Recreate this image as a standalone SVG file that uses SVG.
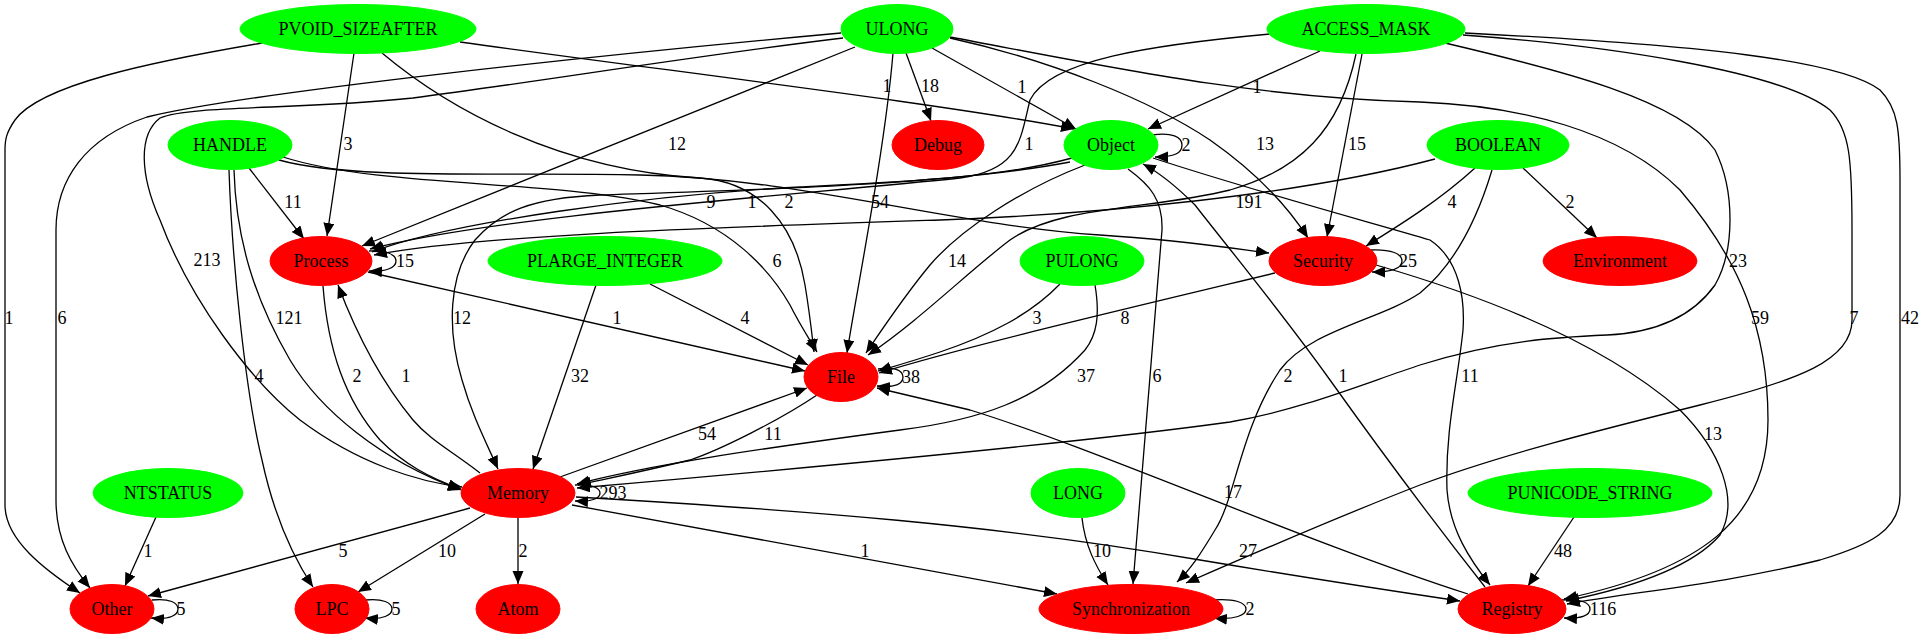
<svg xmlns="http://www.w3.org/2000/svg" width="1925" height="639" viewBox="0 0 1925 639" font-family="Liberation Serif, Times New Roman, serif">
<style>
.g{fill:#00ff00;stroke:#00ff00}
.r{fill:#ff0000;stroke:#ff0000}
text{font-family:'Liberation Serif','Times New Roman',serif;font-size:18px;fill:#000;text-anchor:middle}
.e path{fill:none;stroke:#000;stroke-width:1.3;marker-end:url(#ah)}
</style>
<defs>
<marker id="ah" markerUnits="userSpaceOnUse" markerWidth="14" markerHeight="12" refX="13" refY="5.5" orient="auto">
<path d="M0,0 L13,5.5 L0,11 Z" fill="#000"/>
</marker>
</defs>
<rect width="1925" height="639" fill="#fff"/>
<g class="e" id="edges">
<path d="M262,43 C150,62 40,85 15,120 C6,133 5,140 5,150 L5,505 C5,540 45,570 80,593"/>
<path d="M841,33 C600,55 250,92 147,117 C85,138 56,180 56,230 L56,500 C56,540 72,566 90,588"/>
<path d="M843,38 C700,55 550,80 413,98 C300,110 190,105 160,118 C138,135 140,175 160,220 C190,300 250,380 300,420 C360,465 420,482 462,487"/>
<path d="M855,47 L362,246"/>
<path d="M893,53 C885,150 855,300 847,353"/>
<path d="M906,53 L931,121"/>
<path d="M932,48 L1076,129"/>
<path d="M950,38 C1050,60 1150,100 1210,140 C1260,175 1290,210 1308,238"/>
<path d="M950,37 C1100,65 1250,98 1420,102 C1520,106 1620,130 1680,190 C1740,260 1768,330 1768,420 C1768,520 1700,570 1564,599"/>
<path d="M354,53 L327,236"/>
<path d="M460,42 C700,75 950,105 1074,129"/>
<path d="M382,53 C450,110 560,170 700,178 C760,182 795,225 805,285 C810,315 812,335 814,352"/>
<path d="M1270,34 C1150,45 1050,60 1030,100 C1020,140 1020,170 960,178 C800,195 500,215 370,249"/>
<path d="M1320,51 L1148,129"/>
<path d="M1356,54 C1340,130 1300,170 1230,190 C1150,210 1060,205 1010,240 C970,270 920,320 868,355"/>
<path d="M1362,54 L1327,237"/>
<path d="M1445,43 C1560,70 1680,100 1715,150 C1735,190 1735,250 1715,285 C1690,320 1650,333 1607,335 C1560,337 1500,340 1420,365 C1360,385 1300,410 1230,422 C1100,440 900,460 577,488"/>
<path d="M1463,35 C1600,45 1780,70 1830,110 C1850,130 1852,160 1852,230 L1852,320 C1852,360 1800,380 1700,405 C1600,430 1500,455 1420,485 C1330,520 1250,555 1186,583"/>
<path d="M1465,33 C1700,45 1840,60 1880,90 C1898,108 1900,130 1900,180 L1900,495 C1900,530 1870,545 1820,560 C1720,585 1630,592 1567,604"/>
<path d="M249,168 L304,239"/>
<path d="M234,170 C236,240 255,300 290,360 C320,410 380,460 461,490"/>
<path d="M229,170 C232,260 245,390 262,460 C275,520 295,560 313,587"/>
<path d="M283,157 C380,188 560,180 660,205 C730,225 770,270 790,305 C800,325 810,340 817,352"/>
<path d="M279,160 C350,180 500,172 640,175 C800,178 950,225 1100,235 C1180,240 1230,248 1269,253"/>
<path d="M1152,135 C1172,132 1182,137 1182,145 C1182,153 1175,157 1155,157"/>
<path d="M1072,158 C1000,178 900,182 800,187 C650,195 450,222 372,252"/>
<path d="M1070,162 C950,185 750,190 600,195 C530,198 500,212 475,240 C448,275 447,330 462,380 C472,415 485,440 498,469"/>
<path d="M1085,165 C1020,190 960,230 930,265 C905,295 885,325 866,353"/>
<path d="M1128,169 C1150,185 1163,200 1162,230 L1133,584"/>
<path d="M1153,158 C1250,190 1380,225 1430,240 C1460,260 1465,300 1463,330 C1458,380 1445,430 1447,490 C1450,530 1470,560 1490,585"/>
<path d="M1485,587 C1440,530 1380,450 1330,380 C1280,310 1230,250 1195,205 C1175,185 1158,172 1143,164"/>
<path d="M1435,159 C1300,195 1100,214 940,220 C700,228 480,235 374,255"/>
<path d="M1475,168 C1440,200 1400,225 1366,246"/>
<path d="M1523,168 L1597,238"/>
<path d="M1492,170 C1480,210 1460,260 1420,293 C1380,320 1310,330 1280,370 C1240,430 1235,500 1215,530 C1200,555 1190,570 1177,582"/>
<path d="M369,251 C385,250 396,254 396,261 C396,268 385,272 369,271"/>
<path d="M323,286 C328,350 345,400 380,440 C405,465 430,478 461,489"/>
<path d="M480,473 C450,450 430,440 413,420 C380,380 355,330 338,285"/>
<path d="M368,272 L805,371"/>
<path d="M650,284 L808,365"/>
<path d="M596,285 L533,469"/>
<path d="M1060,284 C1030,315 990,335 940,352 C910,362 895,366 878,371"/>
<path d="M1275,273 C1100,315 960,348 879,373"/>
<path d="M1095,285 C1100,315 1097,335 1085,350 C1040,400 980,420 900,430 C750,450 650,465 577,484"/>
<path d="M817,395 C780,420 720,450 690,460 C640,472 610,478 578,485"/>
<path d="M560,477 L807,388"/>
<path d="M878,369 C895,366 903,371 903,377 C903,384 895,388 877,386"/>
<path d="M1370,250 C1392,249 1402,254 1402,261 C1402,268 1392,272 1372,272"/>
<path d="M1376,265 C1480,295 1600,340 1680,410 C1720,450 1740,500 1720,535 C1690,570 1620,590 1566,601"/>
<path d="M1562,600 C1580,598 1590,603 1590,609 C1590,615 1582,619 1564,618"/>
<path d="M575,485 C592,484 600,488 600,493 C600,498 593,502 575,501"/>
<path d="M470,508 L148,596"/>
<path d="M485,514 L358,592"/>
<path d="M518,518 L518,584"/>
<path d="M572,505 L1057,594"/>
<path d="M576,497 C800,510 1000,525 1200,560 C1350,585 1420,595 1460,601"/>
<path d="M1468,594 C1300,540 1100,450 970,410 L877,388"/>
<path d="M156,517 L125,586"/>
<path d="M1082,518 C1085,545 1095,565 1108,585"/>
<path d="M1574,517 L1528,586"/>
<path d="M152,600 C170,598 178,603 178,609 C178,615 170,620 151,618"/>
<path d="M365,600 C383,598 392,603 392,609 C392,615 383,620 365,618"/>
<path d="M1212,600 C1235,598 1246,603 1246,609 C1246,615 1235,620 1214,618"/>
</g>
<g id="labels">
<text x="9" y="324">1</text>
<text x="62" y="324">6</text>
<text x="348" y="150">3</text>
<text x="293" y="208">11</text>
<text x="207" y="266">213</text>
<text x="289" y="324">121</text>
<text x="259" y="382">4</text>
<text x="357" y="382">2</text>
<text x="406" y="382">1</text>
<text x="462" y="324">12</text>
<text x="405" y="267">15</text>
<text x="677" y="150">12</text>
<text x="711" y="208">9</text>
<text x="752" y="208">1</text>
<text x="789" y="208">2</text>
<text x="880" y="208">54</text>
<text x="887" y="92">1</text>
<text x="930" y="92">18</text>
<text x="1022" y="93">1</text>
<text x="1029" y="150">1</text>
<text x="1186" y="151">2</text>
<text x="1265" y="150">13</text>
<text x="1257" y="93">1</text>
<text x="1357" y="150">15</text>
<text x="1249" y="208">191</text>
<text x="1452" y="208">4</text>
<text x="1570" y="208">2</text>
<text x="957" y="267">14</text>
<text x="777" y="267">6</text>
<text x="745" y="324">4</text>
<text x="617" y="324">1</text>
<text x="580" y="382">32</text>
<text x="1037" y="324">3</text>
<text x="1125" y="324">8</text>
<text x="1086" y="382">37</text>
<text x="1157" y="382">6</text>
<text x="1288" y="382">2</text>
<text x="1343" y="382">1</text>
<text x="1408" y="267">25</text>
<text x="1738" y="267">23</text>
<text x="1760" y="324">59</text>
<text x="1854" y="324">7</text>
<text x="1910" y="324">42</text>
<text x="1470" y="382">11</text>
<text x="1713" y="440">13</text>
<text x="1233" y="498">17</text>
<text x="1248" y="557">27</text>
<text x="865" y="557">1</text>
<text x="1102" y="557">10</text>
<text x="1563" y="557">48</text>
<text x="343" y="557">5</text>
<text x="447" y="557">10</text>
<text x="523" y="557">2</text>
<text x="148" y="557">1</text>
<text x="707" y="440">54</text>
<text x="773" y="440">11</text>
<text x="911" y="383">38</text>
<text x="613" y="499">293</text>
<text x="181" y="615">5</text>
<text x="396" y="615">5</text>
<text x="1250" y="615">2</text>
<text x="1603" y="615">116</text>
</g>
<g id="n_PVOID_SIZEAFTER"><ellipse class="g" cx="358" cy="29" rx="118" ry="24.5"/><text x="358" y="35">PVOID_SIZEAFTER</text></g>
<g id="n_ULONG"><ellipse class="g" cx="897" cy="29" rx="56" ry="24.5"/><text x="897" y="35">ULONG</text></g>
<g id="n_ACCESS_MASK"><ellipse class="g" cx="1366" cy="29" rx="99" ry="24.5"/><text x="1366" y="35">ACCESS_MASK</text></g>
<g id="n_HANDLE"><ellipse class="g" cx="230" cy="145" rx="62" ry="24.5"/><text x="230" y="151">HANDLE</text></g>
<g id="n_Debug"><ellipse class="r" cx="938" cy="145" rx="46" ry="24.5"/><text x="938" y="151">Debug</text></g>
<g id="n_Object"><ellipse class="g" cx="1111" cy="145" rx="47" ry="24.5"/><text x="1111" y="151">Object</text></g>
<g id="n_BOOLEAN"><ellipse class="g" cx="1498" cy="145" rx="71" ry="24.5"/><text x="1498" y="151">BOOLEAN</text></g>
<g id="n_Process"><ellipse class="r" cx="321" cy="261" rx="51" ry="24.5"/><text x="321" y="267">Process</text></g>
<g id="n_PLARGE_INTEGER"><ellipse class="g" cx="605" cy="261" rx="117" ry="24.5"/><text x="605" y="267">PLARGE_INTEGER</text></g>
<g id="n_PULONG"><ellipse class="g" cx="1082" cy="261" rx="62" ry="24.5"/><text x="1082" y="267">PULONG</text></g>
<g id="n_Security"><ellipse class="r" cx="1323" cy="261" rx="54" ry="24.5"/><text x="1323" y="267">Security</text></g>
<g id="n_Environment"><ellipse class="r" cx="1620" cy="261" rx="77" ry="24.5"/><text x="1620" y="267">Environment</text></g>
<g id="n_File"><ellipse class="r" cx="841" cy="377" rx="37" ry="24.5"/><text x="841" y="383">File</text></g>
<g id="n_NTSTATUS"><ellipse class="g" cx="168" cy="493" rx="75" ry="24.5"/><text x="168" y="499">NTSTATUS</text></g>
<g id="n_Memory"><ellipse class="r" cx="518" cy="493" rx="57" ry="24.5"/><text x="518" y="499">Memory</text></g>
<g id="n_LONG"><ellipse class="g" cx="1078" cy="493" rx="47" ry="24.5"/><text x="1078" y="499">LONG</text></g>
<g id="n_PUNICODE_STRING"><ellipse class="g" cx="1590" cy="493" rx="122" ry="24.5"/><text x="1590" y="499">PUNICODE_STRING</text></g>
<g id="n_Other"><ellipse class="r" cx="112" cy="609" rx="42" ry="24.5"/><text x="112" y="615">Other</text></g>
<g id="n_LPC"><ellipse class="r" cx="332" cy="609" rx="37" ry="24.5"/><text x="332" y="615">LPC</text></g>
<g id="n_Atom"><ellipse class="r" cx="518" cy="609" rx="42" ry="24.5"/><text x="518" y="615">Atom</text></g>
<g id="n_Synchronization"><ellipse class="r" cx="1131" cy="609" rx="92" ry="24.5"/><text x="1131" y="615">Synchronization</text></g>
<g id="n_Registry"><ellipse class="r" cx="1512" cy="609" rx="54" ry="24.5"/><text x="1512" y="615">Registry</text></g>
</svg>
